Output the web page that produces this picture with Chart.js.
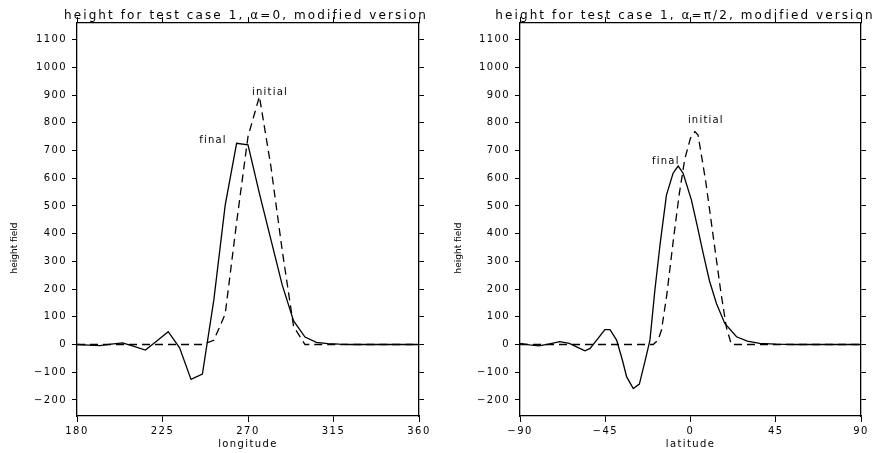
<!DOCTYPE html>
<html><head><meta charset="utf-8">
<script src="https://cdn.jsdelivr.net/npm/chart.js@4/dist/chart.umd.min.js"></script>
<style>
html,body{margin:0;padding:0;background:#fff;overflow:hidden}
#wrap{position:relative;width:888px;height:453px;background:#fff}
.c{position:absolute;top:0;width:444px;height:453px}
</style></head><body>
<div id="wrap">
<div class="c" style="left:0"><canvas id="c1"></canvas></div>
<div class="c" style="left:444px"><canvas id="c2"></canvas></div>
</div>
<script>
// ---- data ----
const lonGrid = [180,186,192,198,204,210,216,222,228,234,240,246,252,258,264,270,276,282,288,294,300,306,312,318,324,330,336,342,348,354,360];
const finalLon = [0,-2,-4,1,6,-7,-20,13,46,-12,-126,-107,160,503,726,720,545,380,215,85,27,8,3,1,0,0,0,0,0,0,0];
const initialLon = [0,0,0,0,0,0,0,0,0,0,0,0,15,110,440,750,895,645,340,65,0,0,0,0,0,0,0,0,0,0,0];

const latFinal = [-90,-85,-80,-75,-69,-64,-59,-55.7,-53,-49,-45.2,-42.5,-39,-36,-33.7,-30.2,-27,-24.1,-21.4,-18.8,-16,-12.7,-9.2,-6.5,-3.9,0.5,3.5,6.7,10,13.7,18.1,24.3,30,36.5,45,55,90];
const finalLat = [4,-1,-5,1,10,4,-12,-23,-14,20,54,54,16,-55,-117,-159,-143,-63,16,196,365,539,618,644,618,521,430,329,230,148,76,28,12,4,1,0,0];
const latInitial = [-90,-19.7,-17.1,-15.3,-12.5,-9,-6,-3,0,2.3,4,8,12,16,19,21.6,90];
const initialLat = [0,0,16,52,180,380,540,670,745,768,756,590,390,190,60,0,0];

const lonTicks = [180,225,270,315,360];
const latTicks = [-90,-45,0,45,90];
const heightTicks = [-200,-100,0,100,200,300,400,500,600,700,800,900,1000,1100];
const heightRange = [-258,1160];

const titles = ['height for test case 1, \u03b1=0, modified version', 'height for test case 1, \u03b1=\u03c0/2, modified version'];
const xTitles = ['longitude','latitude'];
const yTitle = 'height field';

// ---- helpers ----
const pts = (xs, ys) => xs.map((v,i)=>({x:v,y:ys[i]}));
const fmt = v => v < 0 ? '\u2212' + Math.abs(v) : String(v);
const FONT = 'DejaVu Sans';

const textPlugin = {
  id: 'txt',
  beforeDraw(chart){ chart.ctx.letterSpacing = '1.4px'; },
  afterDraw(chart, args, opts){
    const ctx = chart.ctx, xs = chart.scales.x, ys = chart.scales.y;
    ctx.save();
    ctx.fillStyle = '#000';
    ctx.textBaseline = 'middle';
    ctx.textAlign = 'center';
    ctx.letterSpacing = '2.1px';
    ctx.font = '12px "' + FONT + '"';
    ctx.fillText(opts.title, opts.titleX, 16);
    ctx.letterSpacing = '1.2px';
    ctx.font = '10px "' + FONT + '"';
    opts.labels.forEach(l => ctx.fillText(l.text, xs.getPixelForValue(l.x), ys.getPixelForValue(l.y)));
    ctx.letterSpacing = '0px';
    ctx.font = '9px "' + FONT + '"';
    ctx.translate(opts.yLabelX, opts.yLabelY);
    ctx.rotate(-Math.PI/2);
    ctx.fillText(yTitle, 0, 0);
    ctx.restore();
  }
};

function makeChart(id, xmin, xmax, xticks, xtitle, sets, leftW, rightW, textOpts){
  const tickFont = {family: FONT, size: 10};
  const axisBorder = {display:true, color:'#000', width:1.3};
  const gridTicks = (len) => ({drawOnChartArea:false, drawTicks:true, tickLength:len, color:'#000', lineWidth:1});
  return new Chart(document.getElementById(id), {
    type: 'scatter',
    data: { datasets: sets },
    options: {
      responsive: true, maintainAspectRatio: false, animation: false,
      layout: { padding: {top:17, left:0, right:0, bottom:0} },
      plugins: { legend:{display:false}, tooltip:{enabled:false}, txt: textOpts },
      scales: {
        x: { type:'linear', position:'bottom', min:xmin, max:xmax,
             afterBuildTicks: s => { s.ticks = xticks.map(v=>({value:v})); },
             ticks:{ color:'#000', font:tickFont, padding:3, maxRotation:0, autoSkip:false, callback: fmt },
             grid: gridTicks(6), border: axisBorder,
             title:{ display:true, text:xtitle, color:'#000', font:{family:FONT, size:10}, padding:{top:0, bottom:3} },
             afterFit: s => { s.height = 37; } },
        x2:{ type:'linear', position:'top', min:xmin, max:xmax,
             afterBuildTicks: s => { s.ticks = xticks.map(v=>({value:v})); },
             ticks:{ display:false }, grid: gridTicks(6), border: axisBorder,
             afterFit: s => { s.height = 6; } },
        y: { type:'linear', position:'left', min:heightRange[0], max:heightRange[1],
             afterBuildTicks: s => { s.ticks = heightTicks.map(v=>({value:v})); },
             ticks:{ color:'#000', font:tickFont, padding:5, callback: fmt },
             grid: gridTicks(5), border: axisBorder,
             afterFit: s => { s.width = leftW; } },
        y2:{ type:'linear', position:'right', min:heightRange[0], max:heightRange[1],
             afterBuildTicks: s => { s.ticks = heightTicks.map(v=>({value:v})); },
             ticks:{ display:false }, grid: gridTicks(5), border: axisBorder,
             afterFit: s => { s.width = rightW; } }
      }
    },
    plugins: [textPlugin]
  });
}

const lineStyle = (dash) => ({ showLine:true, borderColor:'#000', borderWidth:1.3, pointRadius:0, tension:0, fill:false, borderDash: dash, xAxisID:'x', yAxisID:'y' });

makeChart('c1', 180, 360, lonTicks, xTitles[0], [
  Object.assign({ label:'final', data: pts(lonGrid, finalLon) }, lineStyle([])),
  Object.assign({ label:'initial', data: pts(lonGrid, initialLon) }, lineStyle([8,5]))
], 77, 25, { title: titles[0], titleX: 246, yLabelX: 15, yLabelY: 248,
  labels: [ {text:'final', x:251.6, y:738}, {text:'initial', x:281.6, y:911} ] });

makeChart('c2', -90, 90, latTicks, xTitles[1], [
  Object.assign({ label:'final', data: pts(latFinal, finalLat) }, lineStyle([])),
  Object.assign({ label:'initial', data: pts(latInitial, initialLat) }, lineStyle([8,5]))
], 76, 27, { title: titles[1], titleX: 241, yLabelX: 15, yLabelY: 248,
  labels: [ {text:'final', x:-13, y:662}, {text:'initial', x:8.1, y:810} ] });
</script>
</body></html>
